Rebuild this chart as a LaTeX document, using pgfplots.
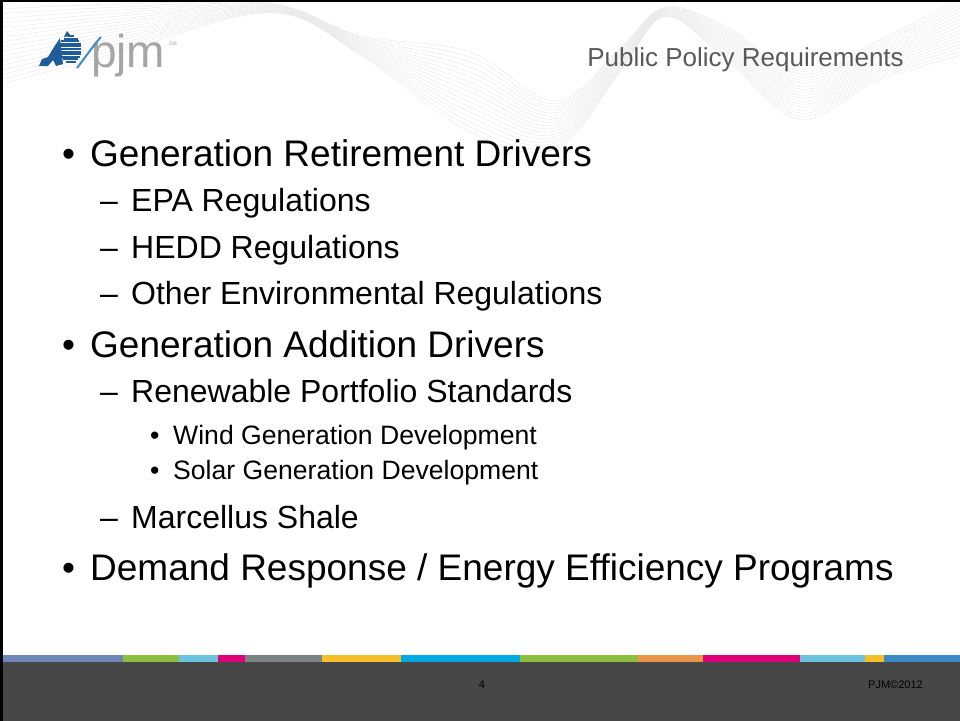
\documentclass[border=0pt]{standalone}
\usepackage{pgfplots}
\usepackage{fontspec}
\pgfplotsset{compat=1.18}
\setmainfont{Liberation Sans}

\definecolor{slate}{HTML}{6F86B8}
\definecolor{lgreen}{HTML}{8DBE3F}
\definecolor{lblue}{HTML}{6CC3E0}
\definecolor{magenta2}{HTML}{E2007A}
\definecolor{midgray}{HTML}{7B8285}
\definecolor{yellow2}{HTML}{F6BE28}
\definecolor{cyan2}{HTML}{00A9E2}
\definecolor{orange2}{HTML}{E9964A}
\definecolor{blue2}{HTML}{3C89C6}
\definecolor{footer}{HTML}{474747}
\definecolor{titlegray}{HTML}{595959}
\definecolor{logogray}{HTML}{A5A5A5}
\definecolor{logoblue}{HTML}{1F5C99}
\definecolor{logolight}{HTML}{3D8CCB}
\definecolor{wave}{HTML}{E6E6E6}

\newcommand\Lone{\fontsize{37bp}{44bp}\selectfont}
\newcommand\Ltwo{\fontsize{32bp}{38bp}\selectfont}
\newcommand\Lthree{\fontsize{26.6bp}{32bp}\selectfont}
\newcommand\stripe[3]{\addplot[fill=#3, draw=none] coordinates {(#1,655) (#2,655) (#2,662) (#1,662)} -- cycle;}

\begin{document}
\begin{tikzpicture}
  \path[use as bounding box] (0,0) rectangle (960bp,-721bp);
  % faint background ribbon
  \begin{scope}[x=1bp, y=-1bp]
    \clip (0,0) rectangle (960,220);
    \foreach \k in {-8,...,8}{
      \draw[wave, line width=0.4bp] plot[smooth, tension=0.6] coordinates {
        (-20,{50+5*\k}) (120,{28+3*\k}) (270,{8+0.6*\k}) (360,{45+1.2*\k})
        (470,{92+5*\k}) (555,{125+3*\k}) (620,{60+1.5*\k}) (665,{12+0.6*\k})
        (725,{42+2*\k}) (800,{95+3*\k}) (880,{60+2.5*\k}) (980,{18+4*\k})};
    }
  \end{scope}

  \begin{axis}[
    at={(0,0)}, anchor=north west,
    width=960bp, height=721bp, scale only axis,
    xmin=0, xmax=960, ymin=0, ymax=721,
    y dir=reverse,
    hide axis, clip=false,
    ]
    % footer bar
    \addplot[fill=footer, draw=none] coordinates {(0,662) (960,662) (960,721) (0,721)} -- cycle;
    % colour stripe
    \stripe{0}{123}{slate}
    \stripe{123}{179}{lgreen}
    \stripe{179}{218}{lblue}
    \stripe{218}{245}{magenta2}
    \stripe{245}{322}{midgray}
    \stripe{322}{401}{yellow2}
    \stripe{401}{520}{cyan2}
    \stripe{520}{638}{lgreen}
    \stripe{638}{703}{orange2}
    \stripe{703}{800}{magenta2}
    \stripe{800}{865}{lblue}
    \stripe{865}{884}{yellow2}
    \stripe{884}{960}{blue2}

    % title and logo text
    \node[anchor=base east, inner sep=0, text=titlegray, font=\fontsize{26bp}{30bp}\selectfont] at (axis cs:904,66) {Public Policy Requirements};
    \node[anchor=base west, inner sep=0, text=logogray, font=\fontsize{46bp}{50bp}\selectfont] at (axis cs:91,67) {pjm};
    \node[anchor=base west, inner sep=0, text=logogray, font=\fontsize{5bp}{6bp}\selectfont] at (axis cs:169,45) {SM};

    % bullets
    \node[anchor=base west, inner sep=0, font=\Lone] at (axis cs:62,166) {•};
    \node[anchor=base west, inner sep=0, font=\Lone] at (axis cs:90,166) {Generation Retirement Drivers};
    \node[anchor=base west, inner sep=0, font=\Ltwo] at (axis cs:100,211) {–};
    \node[anchor=base west, inner sep=0, font=\Ltwo] at (axis cs:131,211) {EPA Regulations};
    \node[anchor=base west, inner sep=0, font=\Ltwo] at (axis cs:100,258) {–};
    \node[anchor=base west, inner sep=0, font=\Ltwo] at (axis cs:131,258) {HEDD Regulations};
    \node[anchor=base west, inner sep=0, font=\Ltwo] at (axis cs:100,304) {–};
    \node[anchor=base west, inner sep=0, font=\Ltwo] at (axis cs:131,304) {Other Environmental Regulations};
    \node[anchor=base west, inner sep=0, font=\Lone] at (axis cs:62,357) {•};
    \node[anchor=base west, inner sep=0, font=\Lone] at (axis cs:90,357) {Generation Addition Drivers};
    \node[anchor=base west, inner sep=0, font=\Ltwo] at (axis cs:100,402) {–};
    \node[anchor=base west, inner sep=0, font=\Ltwo] at (axis cs:131,402) {Renewable Portfolio Standards};
    \node[anchor=base west, inner sep=0, font=\Lthree] at (axis cs:150,444) {•};
    \node[anchor=base west, inner sep=0, font=\Lthree] at (axis cs:173,444) {Wind Generation Development};
    \node[anchor=base west, inner sep=0, font=\Lthree] at (axis cs:150,479) {•};
    \node[anchor=base west, inner sep=0, font=\Lthree] at (axis cs:173,479) {Solar Generation Development};
    \node[anchor=base west, inner sep=0, font=\Ltwo] at (axis cs:100,528) {–};
    \node[anchor=base west, inner sep=0, font=\Ltwo] at (axis cs:131,528) {Marcellus Shale};
    \node[anchor=base west, inner sep=0, font=\Lone] at (axis cs:62,580) {•};
    \node[anchor=base west, inner sep=0, font=\Lone] at (axis cs:90,580) {Demand Response / Energy Efficiency Programs};

    % footer text
    \node[anchor=base, inner sep=0, text=black, font=\fontsize{11bp}{13bp}\selectfont] at (axis cs:482,688) {4};
    \node[anchor=base west, inner sep=0, text=black, font=\fontsize{11bp}{13bp}\selectfont] at (axis cs:868,688) {PJM©2012};
  \end{axis}

  % logo mark and slide frame
  \begin{scope}[x=1bp, y=-1bp]
    \foreach \yy in {36,38.6,...,63.5}{
      \pgfmathsetmacro\hw{sqrt(max(0,196-(\yy-49.5)*(\yy-49.5)))}
      \draw[logoblue, line width=2bp] ({71-\hw*0.85},\yy) -- ({71+\hw*0.75},\yy);
    }
    \fill[logoblue] (39,66) -- (42,59) -- (48,57) -- (54,47) -- (60,38) -- (63,64) -- (56,66) -- (53,60) -- (48,66) -- cycle;
    \fill[logoblue] (64,37) -- (67,31) -- (71,36) -- cycle;
    \draw[logolight, line width=2bp] (77,68) .. controls (85,58) and (92,47) .. (101,37);
    \fill[black] (0,0) rectangle (960,2.5);
    \fill[black] (0,0) rectangle (3,721);
  \end{scope}
\end{tikzpicture}
\end{document}
